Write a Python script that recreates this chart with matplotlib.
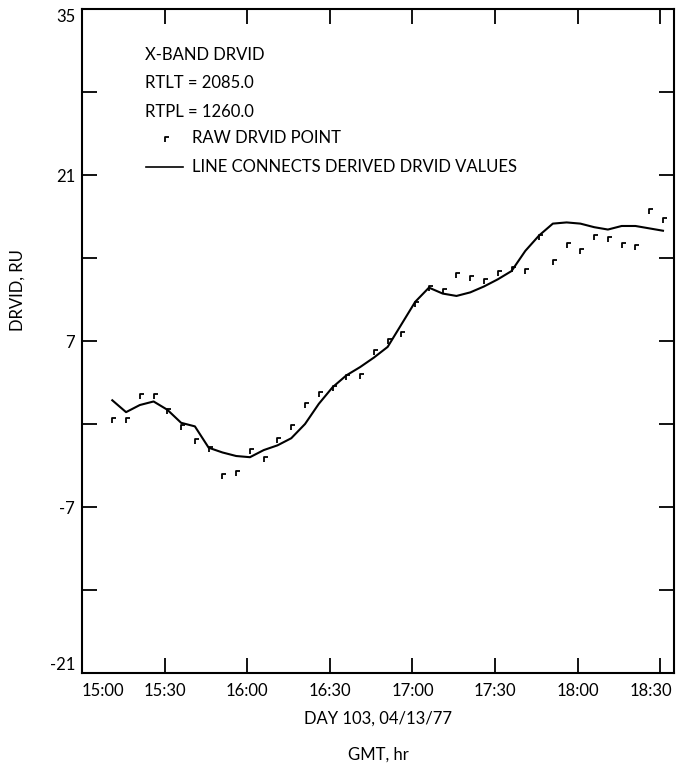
import numpy as np
import matplotlib
matplotlib.use("Agg")
import matplotlib.pyplot as plt
from matplotlib.path import Path
from matplotlib.transforms import ScaledTranslation

plt.rcParams['font.family'] = ['Lato', 'DejaVu Sans']

# time in minutes after 15:00 (day 103, 04/13/77)
t_min = [11, 16, 21, 26, 31, 36, 41, 46, 51, 56,
         61, 66, 71, 76, 81, 86, 91, 96, 101, 106,
         111, 116, 121, 126, 131, 136, 141, 146, 151, 156,
         161, 166, 171, 176, 181, 186, 191, 196, 201, 206, 211]

# raw DRVID points, RU
raw_drvid = [0.5, 0.5, 2.5, 2.5, 1.3, -0.1, -1.3, -1.9, -4.2, -4.0,
             -2.1, -2.8, -1.2, -0.1, 1.8, 2.7, 3.2, 4.1, 4.2, 6.2,
             7.2, 7.8, 10.3, 11.6, 11.4, 12.7, 12.5, 12.2, 12.9, 13.2,
             13.1, 15.9, 13.8, 15.3, 14.8, 15.9, 15.8, 15.3, 15.1, 18.1, 17.4]

# derived DRVID values, RU
derived_drvid = [2.0, 1.0, 1.6, 1.9, 1.2, 0.1, -0.2, -2.0, -2.4, -2.7,
                 -2.8, -2.2, -1.8, -1.2, 0.0, 1.7, 3.1, 4.1, 4.8, 5.6,
                 6.5, 8.4, 10.3, 11.5, 11.0, 10.8, 11.1, 11.6, 12.2, 12.9,
                 14.6, 15.9, 16.9, 17.0, 16.9, 16.6, 16.4, 16.7, 16.7, 16.5, 16.3]

x_ticks = [0, 30, 60, 90, 120, 150, 180, 210]
x_labels = ['15:00', '15:30', '16:00', '16:30', '17:00', '17:30', '18:00', '18:30']
y_ticks = [-21, -14, -7, 0, 7, 14, 21, 28, 35]
y_labels = ['-21', '', '-7', '', '7', '', '21', '', '35']

legend_lines = ['X-BAND DRVID', 'RTLT = 2085.0', 'RTPL = 1260.0']

W, H = 691, 770
fig = plt.figure(figsize=(W / 100, H / 100), dpi=100)
ax = fig.add_axes([82 / W, 1 - 673 / H, (674 - 82) / W, (673 - 9) / H])

# small corner-shaped marker like the plotter's raw point symbol
corner = Path([(0, -1), (0, 0), (0.8, 0)], [Path.MOVETO, Path.LINETO, Path.LINETO])

ax.plot(t_min, derived_drvid, color='black', lw=1.5)
ax.plot(t_min, raw_drvid, linestyle='none', marker=corner, markersize=7.5,
        markeredgewidth=1.3, markeredgecolor='black', markerfacecolor='none')

ax.set_xlim(0, 215)
ax.set_ylim(-21, 35)
ax.set_xticks(x_ticks)
ax.set_xticklabels(x_labels)
ax.set_yticks(y_ticks)
ax.set_yticklabels(y_labels)
ax.tick_params(direction='in', length=11, width=1.3, labelsize=12,
               top=True, right=True, colors='black')
ax.tick_params(axis='x', pad=7)
ax.tick_params(axis='y', pad=5)
for s in ax.spines.values():
    s.set_linewidth(1.5)

# end labels sit inside the frame like the original plot
xl = ax.get_xticklabels()
xl[0].set_ha('left')
xl[-1].set_ha('right')
xl[-1].set_transform(xl[-1].get_transform() + ScaledTranslation(0.12, 0, fig.dpi_scale_trans))
yl = ax.get_yticklabels()
yl[0].set_va('bottom')
yl[-1].set_va('top')

# legend block
fs = 12
fig.text(145 / W, 1 - 55 / H, legend_lines[0], fontsize=fs, va='center')
fig.text(145 / W, 1 - 83 / H, legend_lines[1], fontsize=fs, va='center')
fig.text(145 / W, 1 - 112 / H, legend_lines[2], fontsize=fs, va='center')
ax.plot([165 / W], [1 - 137 / H], transform=fig.transFigure, clip_on=False,
        linestyle='none', marker=corner, markersize=7.5, markeredgewidth=1.3,
        markeredgecolor='black', markerfacecolor='none')
fig.text(192 / W, 1 - 138 / H, 'RAW DRVID POINT', fontsize=fs, va='center')
ax.plot([146 / W, 183 / W], [1 - 167 / H, 1 - 167 / H], transform=fig.transFigure,
        clip_on=False, color='black', lw=1.2)
fig.text(192 / W, 1 - 167 / H, 'LINE CONNECTS DERIVED DRVID VALUES', fontsize=fs, va='center')

# axis labels
fig.text(18 / W, 1 - 290 / H, 'DRVID, RU', fontsize=fs, rotation=90, ha='center', va='center')
fig.text(378 / W, 1 - 719 / H, 'DAY 103, 04/13/77', fontsize=fs, ha='center', va='center')
fig.text(378 / W, 1 - 755 / H, 'GMT, hr', fontsize=fs, ha='center', va='center')

fig.savefig('out.png', dpi=100)
